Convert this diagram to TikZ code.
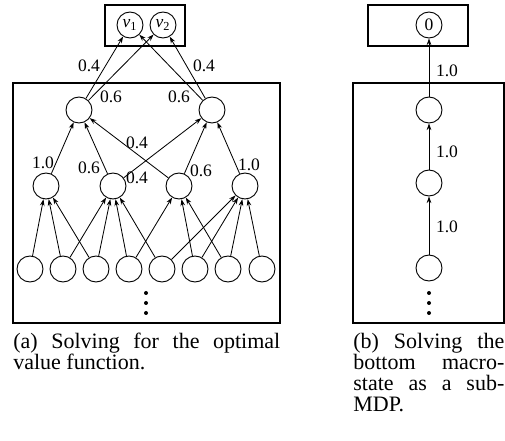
\documentclass[tikz,border=0pt]{standalone}
\usepackage{fontspec}
\setmainfont{Liberation Serif}
\usetikzlibrary{arrows.meta}
\tikzset{
  st/.style={circle, draw, line width=0.55pt, minimum size=15.6pt, inner sep=0pt,
             font=\fontsize{10.5}{12}\selectfont},
  wt/.style={font=\fontsize{10.5}{12}\selectfont, inner sep=0pt},
  ar/.style={-{Stealth[length=4pt,width=2.8pt]}, line width=0.5pt},
  frm/.style={line width=1.2pt},
  dotb/.style={circle, fill, inner sep=0pt, minimum size=2.4pt},
  capt/.style={inner sep=0pt, anchor=base west, font=\fontsize{13.2}{12.5}\selectfont},
}

\begin{document}
\begin{tikzpicture}[x=0.6pt, y=-0.6pt]
  \useasboundingbox (0,0) rectangle (505,441);

  % (a) full problem
  \draw[frm] (105,5) rectangle (185,46);
  \draw[frm] (13,83) rectangle (280,323);
  \node[st] (v1) at (130,25) {\textit{v}\textsubscript{1}};
  \node[st] (v2) at (163,25) {\textit{v}\textsubscript{2}};
  \node[st] (ml) at (79,110) {};
  \node[st] (mr) at (212,110) {};
  \node[st] (la) at (46,186) {};
  \node[st] (lb) at (113,186) {};
  \node[st] (lc) at (179,186) {};
  \node[st] (ld) at (245,186) {};
  \node[st] (b1) at (30,269) {};
  \node[st] (b2) at (63,269) {};
  \node[st] (b3) at (96,269) {};
  \node[st] (b4) at (129,269) {};
  \node[st] (b5) at (162,269) {};
  \node[st] (b6) at (195,269) {};
  \node[st] (b7) at (228,269) {};
  \node[st] (b8) at (262,269) {};
  \node[dotb] (da1) at (146,293) {};
  \node[dotb] (da2) at (146,303) {};
  \node[dotb] (da3) at (146,313) {};

  \draw[ar] (ml) -- (v1);
  \draw[ar] (ml) -- (v2);
  \draw[ar] (mr) -- (v1);
  \draw[ar] (mr) -- (v2);
  \draw[ar] (la) -- (ml);
  \draw[ar] (lb) -- (ml);
  \draw[ar] (lb) -- (mr);
  \draw[ar] (lc) -- (ml);
  \draw[ar] (lc) -- (mr);
  \draw[ar] (ld) -- (mr);
  \draw[ar] (b1) -- (la);
  \draw[ar] (b2) -- (la);
  \draw[ar] (b3) -- (la);
  \draw[ar] (b2) -- (lb);
  \draw[ar] (b3) -- (lb);
  \draw[ar] (b4) -- (lb);
  \draw[ar] (b5) -- (lb);
  \draw[ar] (b4) -- (lc);
  \draw[ar] (b6) -- (lc);
  \draw[ar] (b7) -- (lc);
  \draw[ar] (b5) -- (ld);
  \draw[ar] (b6) -- (ld);
  \draw[ar] (b7) -- (ld);
  \draw[ar] (b8) -- (ld);

  \node[wt] (wa1) at (89,66) {0.4};
  \node[wt] (wa2) at (111,97) {0.6};
  \node[wt] (wa3) at (179,97) {0.6};
  \node[wt] (wa4) at (204,66) {0.4};
  \node[wt] (wa5) at (137,143) {0.4};
  \node[wt] (wa6) at (43,163) {1.0};
  \node[wt] (wa7) at (89,168) {0.6};
  \node[wt] (wa8) at (137,178) {0.4};
  \node[wt] (wa9) at (201,171) {0.6};
  \node[wt] (wa10) at (249,165) {1.0};

  \node[capt] (capa) at (13,349)
    {\parbox[t]{160.2pt}{(a) Solving for the optimal\linebreak value function.}};

  % (b) bottom macro-state
  \draw[frm] (368,5) rectangle (468,46);
  \draw[frm] (353,83) rectangle (503.5,323);
  \node[st] (z0) at (429,25) {0};
  \node[st] (z1) at (429,110) {};
  \node[st] (z2) at (429,183) {};
  \node[st] (z3) at (429,268) {};
  \node[dotb] (db1) at (429,293) {};
  \node[dotb] (db2) at (429,303) {};
  \node[dotb] (db3) at (429,313) {};
  \draw[ar] (z3) -- (z2);
  \draw[ar] (z2) -- (z1);
  \draw[ar] (z1) -- (z0);
  \node[wt] (wb1) at (447,71) {1.0};
  \node[wt] (wb2) at (447,152) {1.0};
  \node[wt] (wb3) at (447,227) {1.0};

  \node[capt] (capb) at (353,349)
    {\parbox[t]{90.6pt}{(b) Solving the\linebreak bottom macro-\linebreak state as a sub-\linebreak MDP.}};
\end{tikzpicture}
\end{document}
